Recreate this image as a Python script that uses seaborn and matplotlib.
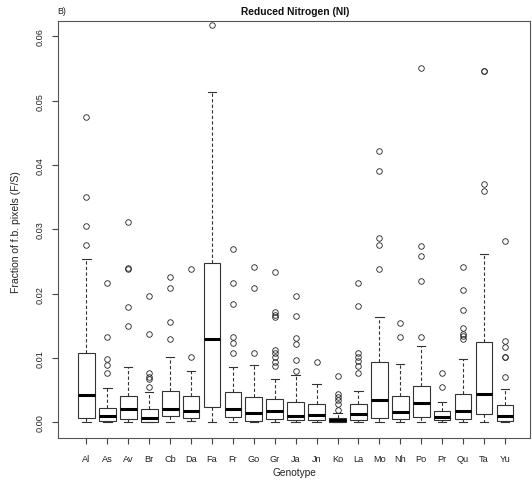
import matplotlib
matplotlib.use("Agg")
import matplotlib.pyplot as plt
import seaborn as sns
import pandas as pd

plt.rcParams['font.family'] = ['Liberation Sans', 'DejaVu Sans']

genotypes = ["Al", "As", "Av", "Br", "Cb", "Da", "Fa", "Fr", "Go", "Gr",
             "Ja", "Jn", "Ko", "La", "Mo", "Nh", "Po", "Pr", "Qu", "Ta", "Yu"]

whisker_low = [0.0, 0.0, 0.0, 0.0, 0.0, 0.0002, 0.0001, 0.0, 0.0, 0.0,
               0.0, 0.0, 0.0, 0.0, 0.0, 0.0, 0.0, 0.0, 0.0, 0.0, 0.0]
q1 = [0.0006, 0.0002, 0.00057, 0.0, 0.00098, 0.00073, 0.00244, 0.00089, 0.00026, 0.00057,
      0.00042, 0.00042, 0.00005, 0.00042, 0.00073, 0.00052, 0.00089, 0.0003, 0.00047, 0.00135,
      0.00026]
median = [0.0042, 0.00093, 0.00202, 0.00062, 0.00202, 0.00176, 0.0129, 0.00202, 0.00145, 0.00171,
          0.00104, 0.00114, 0.0003, 0.0013, 0.00342, 0.0016, 0.00295, 0.00089, 0.00171, 0.0044,
          0.00093]
q3 = [0.0108, 0.00228, 0.00415, 0.00213, 0.00487, 0.00415, 0.0248, 0.00467, 0.0040, 0.00368,
      0.00322, 0.0028, 0.00067, 0.0028, 0.00938, 0.00415, 0.0056, 0.00182, 0.00446, 0.01255,
      0.00264]
whisker_high = [0.0254, 0.00529, 0.0086, 0.00477, 0.0101, 0.0080, 0.0514, 0.00866, 0.00886, 0.0068,
                0.0073, 0.0059, 0.00145, 0.00487, 0.0163, 0.0091, 0.0119, 0.00316, 0.0099, 0.0261,
                0.00524]
outliers = [
    [0.0276, 0.0305, 0.0350, 0.0474],                                        # Al
    [0.00767, 0.00886, 0.0099, 0.0133, 0.0216],                              # As
    [0.0149, 0.0180, 0.0238, 0.0240, 0.0311],                                # Av
    [0.0055, 0.0067, 0.0070, 0.0077, 0.0138, 0.0196],                        # Br
    [0.0130, 0.01555, 0.0208, 0.0226],                                       # Cb
    [0.0101, 0.0239],                                                        # Da
    [0.0618],                                                                # Fa
    [0.01084, 0.0124, 0.0132, 0.01846, 0.0217, 0.0269],                      # Fr
    [0.0108, 0.0208, 0.0241],                                                # Go
    [0.0087, 0.0094, 0.0101, 0.0107, 0.0112, 0.01644, 0.0167, 0.0172, 0.0233],  # Gr
    [0.0080, 0.0097, 0.0121, 0.0131, 0.0165, 0.0196],                        # Ja
    [0.0094],                                                                # Jn
    [0.00197, 0.0028, 0.00347, 0.0040, 0.00435, 0.0072],                     # Ko
    [0.0076, 0.0088, 0.0095, 0.0101, 0.0107, 0.0181, 0.0217],                # La
    [0.0238, 0.0275, 0.0286, 0.0391, 0.0421],                                # Mo
    [0.0132, 0.0155],                                                        # Nh
    [0.0133, 0.0219, 0.0258, 0.0274, 0.0550],                                # Po
    [0.0055, 0.0076],                                                        # Pr
    [0.0129, 0.0134, 0.0138, 0.0147, 0.0174, 0.0205, 0.0241],                # Qu
    [0.0359, 0.0370, 0.0546, 0.0546],                                        # Ta
    [0.0071, 0.0101, 0.0101, 0.0117, 0.0126, 0.0282],                        # Yu
]

y_ticks = [0.00, 0.01, 0.02, 0.03, 0.04, 0.05, 0.06]
y_ticklabels = ["0.00", "0.01", "0.02", "0.03", "0.04", "0.05", "0.06"]

# Build a long table reproducing each box's quartiles, whiskers and outliers
rows = []
for g, lo, a, m, b, hi, outs in zip(genotypes, whisker_low, q1, median, q3, whisker_high, outliers):
    vals = [lo] + [a] * 20 + [m] * 20 + [b] * 20 + [hi] + list(outs)
    rows.extend((g, v) for v in vals)
df = pd.DataFrame(rows, columns=["Genotype", "value"])

W, H = 532, 489
fig = plt.figure(figsize=(W / 100, H / 100), dpi=100)
ax = fig.add_axes([58 / W, (H - 439) / H, 472 / W, 417 / H])

line_col = "#333333"
sns.boxplot(data=df, x="Genotype", y="value", order=genotypes, ax=ax,
            color="white", linecolor=line_col, linewidth=0.8, width=0.8, whis=1.5,
            whiskerprops=dict(linestyle=(0, (3, 2)), linewidth=0.8),
            capprops=dict(linewidth=0.8),
            medianprops=dict(linewidth=2.2, color="black"),
            flierprops=dict(marker="o", markersize=4, markerfacecolor="none",
                            markeredgecolor="#222222", markeredgewidth=0.6))

ax.set_xlim(-1.36, 21.2)
ax.set_ylim(-0.00244, 0.06238)
ax.set_yticks(y_ticks)
ax.set_yticklabels(y_ticklabels, rotation=90, va="center")
ax.set_xlabel("")
ax.set_ylabel("")
for s in ax.spines.values():
    s.set_color("#555555")
    s.set_linewidth(0.8)
ax.tick_params(axis="both", direction="out", length=4.3, width=0.8, color="#444444",
               labelcolor="#222222", labelsize=6.6)
ax.tick_params(axis="x", pad=7.5)
ax.tick_params(axis="y", pad=5)

fig.text(295 / W, 1 - 12 / H, "Reduced Nitrogen (NI)", ha="center", va="center",
         fontsize=7.4, fontweight="bold", color="#111111")
fig.text(57 / W, 1 - 12 / H, "B)", ha="left", va="center", fontsize=6.4, color="#222222")
fig.text(294 / W, 1 - 473 / H, "Genotype", ha="center", va="center", fontsize=7.3, color="#222222")
fig.text(16 / W, 1 - 232 / H, "Fraction of f.b. pixels (F/S)", ha="center", va="center",
         rotation=90, fontsize=7.5, color="#222222")

fig.savefig("out.png", dpi=100)
